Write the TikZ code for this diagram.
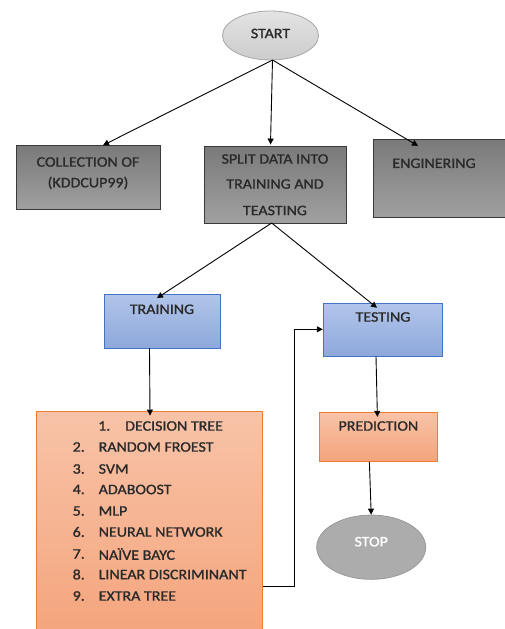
\documentclass[tikz,border=0pt]{standalone}
\usepackage{fontspec}
\setmainfont{Carlito}[FakeStretch=1.1,FakeBold=1.2]
\usetikzlibrary{shapes.geometric,arrows.meta}
\definecolor{gbord}{HTML}{3A3A3A}
\definecolor{gtop}{HTML}{7A7A7A}
\definecolor{gbot}{HTML}{A0A0A0}
\definecolor{btop}{HTML}{B2C5EA}
\definecolor{bbot}{HTML}{8DA8DB}
\definecolor{bbord}{HTML}{4472C4}
\definecolor{otop}{HTML}{F8C3A8}
\definecolor{obot}{HTML}{F4A47B}
\definecolor{obord}{HTML}{ED7D31}
\definecolor{txt}{HTML}{2A2A2A}
\tikzset{
  grayblock/.style={rectangle,draw=gbord,line width=0.9pt,top color=gtop,bottom color=gbot,inner sep=0pt},
  blueblock/.style={rectangle,draw=bbord,line width=0.9pt,top color=btop,bottom color=bbot,inner sep=0pt},
  orangeblock/.style={rectangle,draw=obord,line width=0.9pt,top color=otop,bottom color=obot,inner sep=0pt},
  lbl/.style={inner sep=0pt,text=txt,font=\fontsize{14.5}{16}\selectfont},
  arr/.style={draw=black,line width=0.9pt,-{Triangle[length=6pt,width=6pt]}}
}
\begin{document}
\begin{tikzpicture}[x=1pt,y=-1pt]
\useasboundingbox (0,0) rectangle (505,629);
% START
\node[ellipse,draw=gray!70,line width=0.8pt,top color=gray!22,bottom color=gray!40,minimum width=96pt,minimum height=49pt,inner sep=0pt] (start) at (270.5,35.5) {};
\node[lbl] (starttxt) at (270.5,33.5) {START};
% top row boxes
\node[grayblock,minimum width=144pt,minimum height=63.5pt] (coll) at (88,177.5) {};
\node[lbl] (colla) at (88,162) {COLLECTION OF};
\node[lbl] (collb) at (88,183) {(KDDCUP99)};
\node[grayblock,minimum width=142pt,minimum height=77pt] (split) at (275,184.5) {};
\node[lbl] (splita) at (275,159) {SPLIT DATA INTO};
\node[lbl] (splitb) at (275,184) {TRAINING AND};
\node[lbl] (splitc) at (275,210.5) {TEASTING};
\node[grayblock,minimum width=140pt,minimum height=78pt] (eng) at (443,178.3) {};
\node[lbl] (engtxt) at (434,163.3) {ENGINERING};
% second row
\node[blueblock,minimum width=116pt,minimum height=54pt] (train) at (162,321) {};
\node[lbl] (traintxt) at (162,309.3) {TRAINING};
\node[blueblock,minimum width=119.5pt,minimum height=52.7pt] (test) at (383,329.6) {};
\node[lbl] (testtxt) at (383,317) {TESTING};
% list
\node[orangeblock,minimum width=225.6pt,minimum height=230pt] (list) at (149.5,526) {};
\node[lbl,anchor=west] (n1) at (98,426) {1.};
\node[lbl,anchor=west] (t1) at (125,426) {DECISION TREE};
\node[lbl,anchor=west] (n2) at (72.5,447) {2.};
\node[lbl,anchor=west] (t2) at (98.5,447) {RANDOM FROEST};
\node[lbl,anchor=west] (n3) at (72.5,469) {3.};
\node[lbl,anchor=west] (t3) at (98.5,469) {SVM};
\node[lbl,anchor=west] (n4) at (72.5,489.5) {4.};
\node[lbl,anchor=west] (t4) at (98.5,489.5) {ADABOOST};
\node[lbl,anchor=west] (n5) at (72.5,511) {5.};
\node[lbl,anchor=west] (t5) at (98.5,511) {MLP};
\node[lbl,anchor=west] (n6) at (72.5,532) {6.};
\node[lbl,anchor=west] (t6) at (98.5,532) {NEURAL NETWORK};
\node[lbl,anchor=west] (n7) at (72.5,554) {7.};
\node[lbl,anchor=west] (t7) at (98.5,554) {NAÏVE BAYC};
\node[lbl,anchor=west] (n8) at (72.5,574.5) {8.};
\node[lbl,anchor=west] (t8) at (98.5,574.5) {LINEAR DISCRIMINANT};
\node[lbl,anchor=west] (n9) at (72.5,596) {9.};
\node[lbl,anchor=west] (t9) at (98.5,596) {EXTRA TREE};
% prediction and stop
\node[orangeblock,minimum width=118.7pt,minimum height=49.4pt] (pred) at (378.4,437) {};
\node[lbl] (predtxt) at (378.4,426) {PREDICTION};
\node[ellipse,draw=gray!80,line width=0.8pt,fill=gray!65,minimum width=109pt,minimum height=64.3pt,inner sep=0pt] (stop) at (371.2,547.2) {};
\node[lbl,text=white] (stoptxt) at (371.2,541.7) {STOP};
% connectors
\coordinate (fan) at (272.5,60);
\coordinate (loopa) at (294,586.7);
\coordinate (loopb) at (294,329.3);
\draw[arr] (fan) -- ([xshift=15pt]coll.north);
\draw[arr] (fan) -- ([xshift=-4.5pt,yshift=1pt]split.north);
\draw[arr] (fan) -- ([xshift=-25pt,yshift=-7pt]eng.north);
\coordinate (splitbot) at (271.7,223);
\draw[arr] (splitbot) -- ([xshift=-5pt,yshift=-4.5pt]train.north);
\draw[arr] (splitbot) -- ([xshift=-6pt,yshift=-5pt]test.north);
\draw[arr] ([xshift=-12.5pt]train.south) -- ([xshift=0.5pt,yshift=-5pt]list.north);
\draw[arr] ([xshift=-7pt]test.south) -- ([xshift=-1pt,yshift=-5pt]pred.north);
\draw[arr] ([xshift=-9pt]pred.south) -- (stop.north);
\draw[arr] (list.east |- loopa) -- (loopa) -- (loopb) -- (test.west |- loopb);
\end{tikzpicture}
\end{document}
